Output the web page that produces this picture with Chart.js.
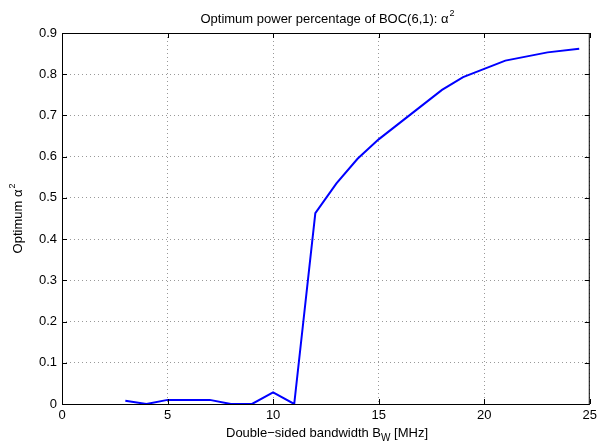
<!DOCTYPE html>
<html>
<head>
<meta charset="utf-8">
<script src="https://cdn.jsdelivr.net/npm/chart.js@4"></script>
<style>
  html, body { margin: 0; padding: 0; background: #fff; }
  canvas { display: block; }
</style>
</head>
<body>
<canvas id="chart" width="601" height="447"></canvas>
<script>
// bandwidth values (MHz) and optimum alpha^2
const bandwidth = [3, 4, 5, 6, 7, 8, 9, 10, 11, 12, 13, 14, 15, 18, 19, 21, 23, 24.5];
const alphaSq   = [0.008, 0, 0.01, 0.01, 0.01, 0, 0, 0.028, 0, 0.463, 0.535, 0.595, 0.642, 0.762, 0.793, 0.833, 0.853, 0.862];
const xTicks = [0, 5, 10, 15, 20, 25];
const yTicks = [0, 0.1, 0.2, 0.3, 0.4, 0.5, 0.6, 0.7, 0.8, 0.9];

const FONT = 'Helvetica, "Liberation Sans", Arial, sans-serif';

// box, inward tick marks and labels like the matlab figure
const frame = {
    id: 'frame',
    beforeDraw(chart) {
        const c = chart.ctx;
        c.save();
        c.fillStyle = '#fff';
        c.fillRect(0, 0, chart.width, chart.height);
        c.restore();
    },
    afterDraw(chart) {
        const c = chart.ctx;
        const a = chart.chartArea;
        const xs = chart.scales.x, ys = chart.scales.y;
        c.save();
        c.strokeStyle = '#000';
        c.lineWidth = 1;
        c.strokeRect(a.left + 0.5, a.top + 0.5, a.right - a.left - 1, a.bottom - a.top);
        c.beginPath();
        xTicks.forEach(v => {
            const px = Math.round(xs.getPixelForValue(v)) + 0.5;
            c.moveTo(px, a.bottom); c.lineTo(px, a.bottom - 5);
            c.moveTo(px, a.top); c.lineTo(px, a.top + 5);
        });
        yTicks.forEach(v => {
            const py = Math.round(ys.getPixelForValue(v)) + 0.5;
            c.moveTo(a.left, py); c.lineTo(a.left + 5, py);
            c.moveTo(a.right, py); c.lineTo(a.right - 5, py);
        });
        c.stroke();

        c.fillStyle = '#000';
        // title
        c.font = '13px ' + FONT;
        c.textBaseline = 'alphabetic';
        c.textAlign = 'left';
        const t1 = 'Optimum power percentage of BOC(6,1): \u03b1';
        let w1 = c.measureText(t1).width;
        c.font = '9px ' + FONT;
        let w2 = c.measureText('2').width;
        let x0 = 327 - (w1 + w2) / 2;
        c.font = '13px ' + FONT;
        c.fillText(t1, x0, 23);
        c.font = '9px ' + FONT;
        c.fillText('2', x0 + w1 + 1, 16);

        // x label
        const p1 = 'Double\u2212sided bandwidth B', p3 = ' [MHz]';
        c.font = '13px ' + FONT;
        const wp1 = c.measureText(p1).width, wp3 = c.measureText(p3).width;
        c.font = '10px ' + FONT;
        const wp2 = c.measureText('W').width;
        x0 = 327 - (wp1 + wp2 + wp3) / 2;
        c.font = '13px ' + FONT;
        c.fillText(p1, x0, 437);
        c.font = '10px ' + FONT;
        c.fillText('W', x0 + wp1, 441);
        c.font = '13px ' + FONT;
        c.fillText(p3, x0 + wp1 + wp2, 437);

        // y label
        c.translate(22, 219);
        c.rotate(-Math.PI / 2);
        const q1 = 'Optimum \u03b1';
        c.font = '13px ' + FONT;
        const wq1 = c.measureText(q1).width;
        c.font = '9px ' + FONT;
        const wq2 = c.measureText('2').width;
        x0 = -(wq1 + wq2) / 2;
        c.font = '13px ' + FONT;
        c.fillText(q1, x0, 0);
        c.font = '9px ' + FONT;
        c.fillText('2', x0 + wq1 + 1, -7);
        c.restore();
    }
};

let ctx = document.getElementById('chart').getContext('2d');
let chart = new Chart(ctx, {
    type: 'line',
    data: {
        datasets: [{
            data: bandwidth.map((b, i) => ({ x: b, y: alphaSq[i] })),
            borderColor: '#0000ff',
            borderWidth: 2,
            pointRadius: 0,
            tension: 0,
            fill: false
        }]
    },
    options: {
        responsive: false,
        animation: false,
        layout: { padding: { top: 33, right: 8, left: 0, bottom: 0 } },
        plugins: {
            legend: { display: false },
            tooltip: { enabled: false }
        },
        scales: {
            x: {
                type: 'linear',
                min: 0, max: 25,
                afterBuildTicks: s => { s.ticks = xTicks.map(v => ({ value: v })); },
                afterFit: s => { s.height = 43; },
                border: { display: false, dash: [1, 3] },
                grid: {
                    color: '#999',
                    lineWidth: 1,
                    drawTicks: false
                },
                ticks: {
                    color: '#000',
                    font: { family: FONT, size: 13 },
                    padding: 4,
                    maxRotation: 0
                }
            },
            y: {
                min: 0, max: 0.9,
                afterBuildTicks: s => { s.ticks = yTicks.map(v => ({ value: v })); },
                afterFit: s => { s.width = 62; },
                border: { display: false, dash: [1, 3] },
                grid: {
                    color: '#999',
                    lineWidth: 1,
                    drawTicks: false
                },
                ticks: {
                    color: '#000',
                    font: { family: FONT, size: 13 },
                    padding: 5,
                    callback: v => (v === 0 ? '0' : v.toFixed(1))
                }
            }
        }
    },
    plugins: [frame]
});
</script>
</body>
</html>
